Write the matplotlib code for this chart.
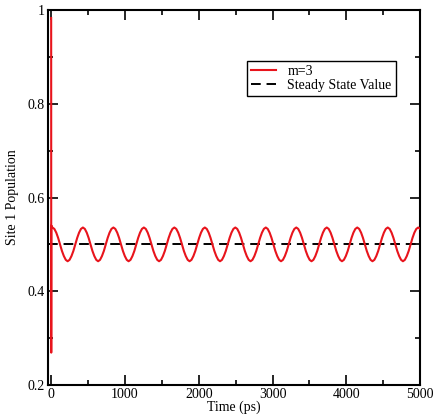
import matplotlib
matplotlib.use("Agg")
import matplotlib.pyplot as plt
from matplotlib.ticker import MultipleLocator

plt.rcParams['font.family'] = ['Liberation Serif', 'DejaVu Serif']

# Time samples (ps) for the m=3 curve
time_ps = [0, 1, 2,
           17, 43, 69, 94, 120, 146, 172, 198, 223, 249, 275, 301, 327, 353, 378, 404,
           430, 456, 482, 507, 533, 559, 585, 611, 636, 662, 688, 714, 740, 766, 791, 817,
           843, 869, 895, 920, 946, 972, 998, 1024, 1049, 1075, 1101, 1127, 1153, 1179, 1204, 1230,
           1256, 1282, 1308, 1333, 1359, 1385, 1411, 1437, 1462, 1488, 1514, 1540, 1566, 1592, 1617, 1643,
           1669, 1695, 1721, 1746, 1772, 1798, 1824, 1850, 1875, 1901, 1927, 1953, 1979, 2005, 2030, 2056,
           2082, 2108, 2134, 2159, 2185, 2211, 2237, 2263, 2288, 2314, 2340, 2366, 2392, 2418, 2443, 2469,
           2495, 2521, 2547, 2572, 2598, 2624, 2650, 2676, 2701, 2727, 2753, 2779, 2805, 2831, 2856, 2882,
           2908, 2934, 2960, 2985, 3011, 3037, 3063, 3089, 3114, 3140, 3166, 3192, 3218, 3244, 3269, 3295,
           3321, 3347, 3373, 3398, 3424, 3450, 3476, 3502, 3527, 3553, 3579, 3605, 3631, 3657, 3682, 3708,
           3734, 3760, 3786, 3811, 3837, 3863, 3889, 3915, 3940, 3966, 3992, 4018, 4044, 4070, 4095, 4121,
           4147, 4173, 4199, 4224, 4250, 4276, 4302, 4328, 4353, 4379, 4405, 4431, 4457, 4483, 4508, 4534,
           4560, 4586, 4612, 4637, 4663, 4689, 4715, 4741, 4766, 4792, 4818, 4844, 4870, 4896, 4921, 4947,
           4973, 5000]

# Site 1 population for m=3
population = [0.983, 0.269, 0.540,
              0.536, 0.533, 0.525, 0.514, 0.500, 0.486, 0.475, 0.467, 0.464, 0.467, 0.475, 0.486, 0.500, 0.514, 0.525, 0.533,
              0.536, 0.533, 0.525, 0.514, 0.500, 0.486, 0.475, 0.467, 0.464, 0.467, 0.475, 0.486, 0.500, 0.514, 0.525, 0.533,
              0.536, 0.533, 0.525, 0.514, 0.500, 0.486, 0.475, 0.467, 0.464, 0.467, 0.475, 0.486, 0.500, 0.514, 0.525, 0.533,
              0.536, 0.533, 0.525, 0.514, 0.500, 0.486, 0.475, 0.467, 0.464, 0.467, 0.475, 0.486, 0.500, 0.514, 0.525, 0.533,
              0.536, 0.533, 0.525, 0.514, 0.500, 0.486, 0.475, 0.467, 0.464, 0.467, 0.475, 0.486, 0.500, 0.514, 0.525, 0.533,
              0.536, 0.533, 0.525, 0.514, 0.500, 0.486, 0.475, 0.467, 0.464, 0.467, 0.475, 0.486, 0.500, 0.514, 0.525, 0.533,
              0.536, 0.533, 0.525, 0.514, 0.500, 0.486, 0.475, 0.467, 0.464, 0.467, 0.475, 0.486, 0.500, 0.514, 0.525, 0.533,
              0.536, 0.533, 0.525, 0.514, 0.500, 0.486, 0.475, 0.467, 0.464, 0.467, 0.475, 0.486, 0.500, 0.514, 0.525, 0.533,
              0.536, 0.533, 0.525, 0.514, 0.500, 0.486, 0.475, 0.467, 0.464, 0.467, 0.475, 0.486, 0.500, 0.514, 0.525, 0.533,
              0.536, 0.533, 0.525, 0.514, 0.500, 0.486, 0.475, 0.467, 0.464, 0.467, 0.475, 0.486, 0.500, 0.514, 0.525, 0.533,
              0.536, 0.533, 0.525, 0.514, 0.500, 0.486, 0.475, 0.467, 0.464, 0.467, 0.475, 0.486, 0.500, 0.514, 0.525, 0.533,
              0.536, 0.533, 0.525, 0.514, 0.500, 0.486, 0.475, 0.467, 0.464, 0.467, 0.475, 0.486, 0.500, 0.514, 0.525, 0.533,
              0.536, 0.533]

steady_state = 0.5
x_ticks = [0, 1000, 2000, 3000, 4000, 5000]
y_ticks = [0.2, 0.4, 0.6, 0.8, 1.0]
y_ticklabels = ["0.2", "0.4", "0.6", "0.8", "1"]

fig = plt.figure(figsize=(4.35, 4.18), dpi=100)
ax = fig.add_axes([0.110, 0.079, 0.856, 0.897])

ax.axhline(steady_state, color='black', lw=1.4, dashes=(5, 3),
           label='Steady State Value', zorder=2)
ax.plot(time_ps, population, color='#e8141c', lw=1.5, label='m=3', zorder=3)

ax.set_xlim(-45, 5000)
ax.set_ylim(0.2, 1.0)
ax.set_xticks(x_ticks)
ax.set_yticks(y_ticks)
ax.set_yticklabels(y_ticklabels)
ax.xaxis.set_minor_locator(MultipleLocator(500))
ax.yaxis.set_minor_locator(MultipleLocator(0.1))
ax.tick_params(which='both', direction='in', top=True, right=True,
               labelsize=10, width=1.2, pad=2)
ax.tick_params(which='major', length=7)
ax.tick_params(which='minor', length=3.5)
for s in ax.spines.values():
    s.set_linewidth(1.5)

ax.set_xlabel('Time (ps)', fontsize=10, labelpad=0)
ax.set_ylabel('Site 1 Population', fontsize=10, labelpad=6)

handles, labels = ax.get_legend_handles_labels()
leg = ax.legend(handles[::-1], labels[::-1], loc='upper left',
                bbox_to_anchor=(0.535, 0.865), fontsize=10, frameon=True,
                fancybox=False, edgecolor='black', framealpha=1,
                handlelength=1.8, handletextpad=0.8, borderpad=0.3,
                labelspacing=0.1, borderaxespad=0)
leg.get_frame().set_linewidth(1.0)

fig.savefig('out.png', dpi=100)
